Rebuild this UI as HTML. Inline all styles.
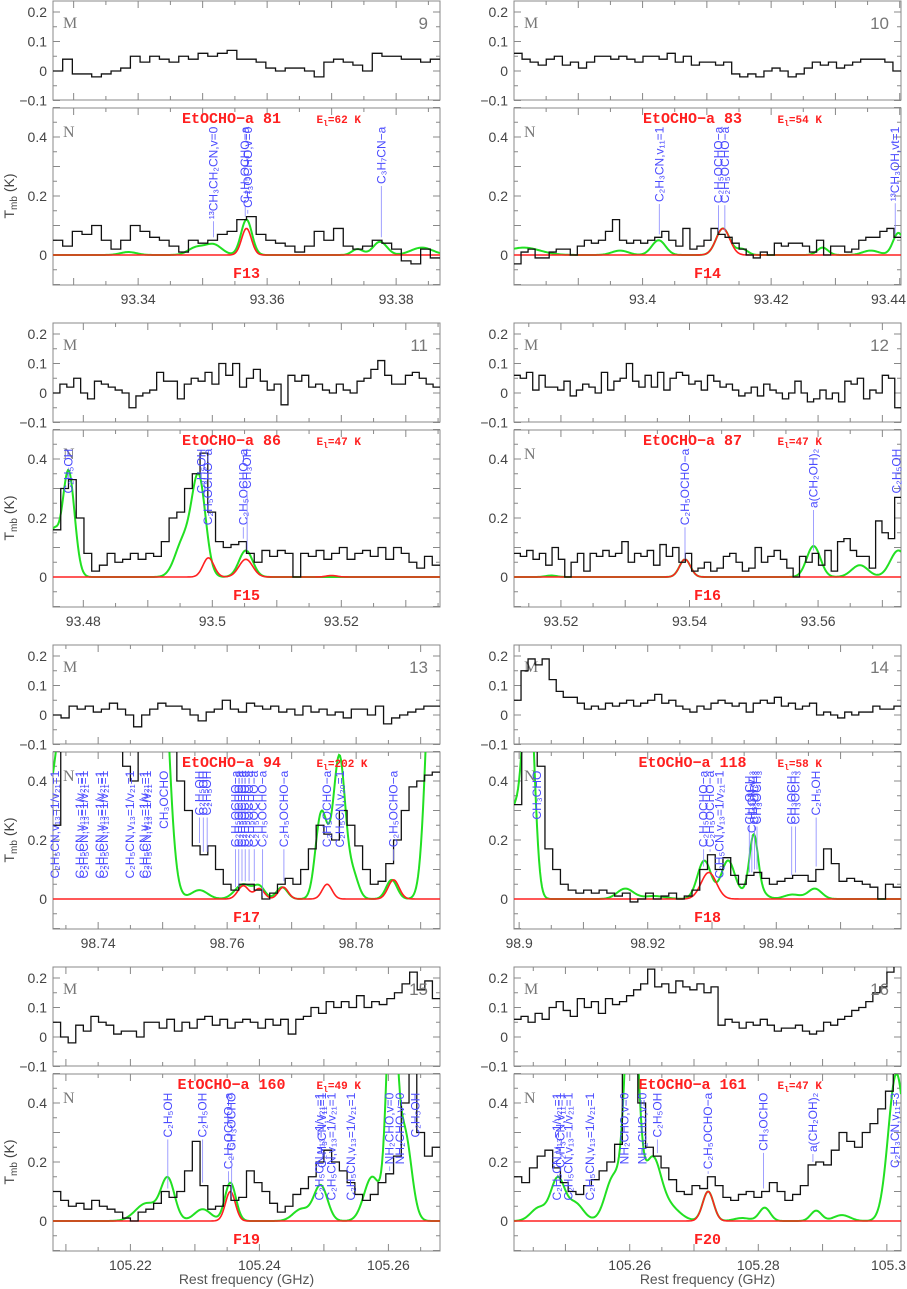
<!DOCTYPE html>
<html><head><meta charset="utf-8"><style>
html,body{margin:0;padding:0;background:#fff}
svg{display:block;font-family:"Liberation Sans",sans-serif}
</style></head><body>
<svg id="chart" width="907" height="1289" viewBox="0 0 907 1289"></svg>
<script>
// ---------- DATA ----------
const p9_range=[93.3268,93.3868], p9_ticks=[93.34,93.36,93.38], p9_tickLabels=["93.34","93.36","93.38"];
const p9_m=[0,0.04,-0.01,-0.01,-0.02,-0.01,0,0.01,0.05,0.03,0.05,0.04,0.03,0.05,0.04,0.06,0.05,0.06,0.07,0.04,0.04,0.03,0.01,0,0.01,0.01,0,-0.02,0.03,0.04,0.03,0.02,0,0.06,0.05,0.05,0.04,0.04,0.03,0.04];
const p9_n=[0.05,0.03,0.08,0.07,0.1,0.05,0.02,0.05,0.1,0.08,0.06,0.05,0.03,0.01,0.05,0.04,0.05,0.07,0.08,0.12,0.13,0.07,0.05,0.04,0.03,0.01,0.03,0.08,0.05,0.09,0.03,0.02,0.03,0.05,0.04,0.02,-0.02,-0.03,0.02,-0.01];
const p9_green=[[93.3517,0.035,0.003],[93.3568,0.12,0.002],[93.3775,0.045,0.0025],[93.374,0.02,0.002],[93.384,0.025,0.004],[93.3385,0.01,0.003],[93.349,0.025,0.003]];
const p9_red=[[93.3568,0.09,0.0018]];
const p9_labels=[[93.3517,"¹³CH₃CH₂CN,v=0"],[93.3566,"C₂H₅OCHO−a"],[93.3570,"CH₃OCHO,v=0"],[93.3777,"C₃H₇CN−a"]];

const p10_range=[93.38,93.4402], p10_ticks=[93.4,93.42,93.44], p10_tickLabels=["93.4","93.42","93.44"];
const p10_m=[0.06,0.04,0.03,0.02,0.04,0.05,0.02,0.03,0.01,0.03,0.05,0.05,0.04,0.05,0.04,0.03,0.05,0.05,0.04,0.06,0.03,0.05,0.02,0.03,0.03,0.02,0.03,-0.01,-0.02,-0.01,-0.02,0,0.01,0,-0.02,-0.01,0.01,0.03,0.02,0.03,0.01,0.02,0.03,0.04,0.04,0.04,0.03,0.0];
const p10_n=[-0.03,0.01,0.02,-0.01,-0.01,0.01,0.02,0.02,0,0.03,0.05,0.04,0.05,0.08,0.12,0.05,0.04,0.05,0.04,0.05,0.06,0.08,0.05,0.03,0.09,0.02,0.03,0.05,0.09,0.07,0.06,0.04,0.02,0.0,-0.01,0.01,0.0,0.04,0.03,0.04,0.04,0.03,0.01,0.05,0,0.03,0.03,0.01,0.02,0.05,0.06,0.06,0.08,0.09,0.06];
const p10_green=[[93.3815,0.025,0.006],[93.3965,0.015,0.003],[93.4025,0.05,0.0025],[93.4125,0.09,0.0025],[93.4155,0.02,0.002],[93.428,0.025,0.002],[93.4355,0.015,0.003],[93.4398,0.075,0.002]];
const p10_red=[[93.4125,0.09,0.0025]];
const p10_labels=[[93.4026,"C₂H₃CN,v₁₁=1"],[93.4118,"C₂H₅OCHO−a"],[93.4128,"C₂H₅OCHO−a"],[93.4393,"¹³CH₃OH,vt=1"]];

const p11_range=[93.4753,93.5353], p11_ticks=[93.48,93.5,93.52], p11_tickLabels=["93.48","93.5","93.52"];
const p11_m=[0,0.03,0.02,0.05,0,-0.02,0.04,0.03,0.02,0.01,0.0,-0.05,-0.01,0,0.01,0.07,0.04,0.04,-0.02,0.03,0.05,0.04,0.07,0.03,0.1,0.06,0.1,0.02,0.05,0.08,0.04,0.01,0.03,-0.04,0.06,0.04,0.06,0.02,0.03,0.01,0,0.03,0.01,0,0.04,0.05,0.08,0.11,0.06,0.03,0.03,0.06,0.07,0.05,0.03,0.02];
const p11_n=[0.16,0.3,0.33,0.2,0.08,0.02,0.04,0.08,0.05,0.06,0.08,0.06,0.08,0.07,0.12,0.2,0.22,0.3,0.35,0.42,0.22,0.12,0.1,0.11,0.12,0.08,0.05,0.09,0.07,0.09,0.08,0.0,0.08,0.07,0.09,0.06,0.08,0.1,0.06,0.08,0.09,0.07,0.1,0.06,0.1,0.08,0.05,0.03,0.07,0.04];
const p11_green=[[93.4753,0.15,0.002],[93.4777,0.36,0.0022],[93.4979,0.33,0.0025],[93.4955,0.12,0.003],[93.5052,0.09,0.0025]];
const p11_red=[[93.4994,0.065,0.002],[93.5052,0.06,0.0025],[93.5185,0.005,0.002]];
const p11_labels=[[93.4777,"C₂H₅OH"],[93.4983,"C₂H₅OH"],[93.4993,"C₂H₅OCHO−a"],[93.5048,"C₂H₅OCHO−a"],[93.5054,"CH₃OH"]];

const p12_range=[93.5127,93.5729], p12_ticks=[93.52,93.54,93.56], p12_tickLabels=["93.52","93.54","93.56"];
const p12_m=[0.06,0.05,0.07,0.01,0.06,0.02,0.02,0.01,0.04,-0.01,0.01,0.03,0.02,0.0,0.07,0.01,0.04,0.05,0.1,0.04,0.02,0.06,0.02,0.07,0.01,0.05,0.07,0.06,0.03,0.04,0.01,0.06,0.04,0.02,0.03,0.01,-0.01,0.0,0.02,-0.01,0.03,0.01,0.0,-0.02,0.0,0.04,0.0,-0.03,-0.02,0.01,-0.02,0.0,-0.03,0.04,0.03,0.05,-0.02,0.01,0.0,0.06,0.05,-0.05];
const p12_n=[0.08,0.07,0.09,0.06,0.08,0.04,0.1,0.06,0.0,0.05,0.08,0.02,0.08,0.07,0.09,0.07,0.08,0.12,0.05,0.08,0.07,0.09,0.04,0.11,0.07,0.1,0.05,0.08,0.02,0.03,0.05,0.02,0.03,0.07,0.08,0.05,0.02,0.03,0.1,0.05,0.07,0.09,0.06,0.03,0.0,0.07,0.05,0.08,0.04,0.09,0.02,0.12,0.13,0.09,0.07,0.07,0.03,0.19,0.15,0.13,0.27];
const p12_green=[[93.5393,0.06,0.002],[93.5593,0.105,0.0025],[93.5665,0.04,0.003],[93.5725,0.09,0.003],[93.5185,0.005,0.002]];
const p12_red=[[93.5393,0.06,0.002]];
const p12_labels=[[93.5393,"C₂H₅OCHO−a"],[93.5593,"a(CH₂OH)₂"],[93.5722,"C₂H₅OH"]];

const p13_range=[98.733,98.793], p13_ticks=[98.74,98.76,98.78], p13_tickLabels=["98.74","98.76","98.78"];
const p13_m=[0,-0.01,0.03,0.02,0.03,0.01,0.02,0.04,0.02,0,-0.04,0.0,0.02,0.04,0.03,0.03,0.02,0.0,-0.02,0.01,0.02,0.05,0.02,0.01,0.04,0.03,0.02,0.03,0.01,0.02,0.0,0.03,0.01,0.02,0.0,0.01,-0.01,0.02,0.02,0.0,0.03,-0.03,-0.01,0,0.01,0.02,0.03,0.03];
const p13_n=[0.25,0.6,0.6,0.6,0.6,0.6,0.6,0.6,0.6,0.45,0.4,0.6,0.6,0.6,0.6,0.5,0.4,0.3,0.18,0.15,0.18,0.1,0.05,0.03,0.05,0.05,0.03,0.0,0.02,0.05,0.07,0.05,0.1,0.17,0.25,0.22,0.2,0.3,0.25,0.18,0.1,0.05,0.06,0.12,0.2,0.3,0.38,0.4,0.42,0.43];
const p13_green=[[98.7385,1.2,0.009],[98.7465,0.6,0.004],[98.7495,1.0,0.003],[98.7557,0.03,0.003],[98.7625,0.05,0.003],[98.765,0.04,0.002],[98.7685,0.04,0.002],[98.7745,0.25,0.002],[98.7775,0.37,0.002],[98.7765,0.15,0.003],[98.7795,0.08,0.002],[98.7855,0.065,0.002],[98.792,1.0,0.0025]];
const p13_red=[[98.7625,0.045,0.002],[98.765,0.035,0.0018],[98.7687,0.04,0.0018],[98.7755,0.05,0.0018],[98.7858,0.065,0.002]];
const p13_labels=[[98.7333,"C₂H₅CN,v₁₃=1/v₂₁=1",1],[98.7372,"C₂H₅CN,v₁₃=1/v₂₁=1",1],[98.7378,"C₂H₅CN,v₁₃=1/v₂₁=1",1],[98.7403,"C₂H₅CN,v₁₃=1/v₂₁=1",1],[98.7409,"C₂H₅CN,v₁₃=1/v₂₁=1",1],[98.7449,"C₂H₅CN,v₁₃=1/v₂₁=1",1],[98.7471,"C₂H₅CN,v₁₃=1/v₂₁=1",1],[98.7476,"C₂H₅CN,v₁₃=1/v₂₁=1",1],[98.7502,"CH₃OCHO",1],
 [98.7557,"C₂H₅OH"],[98.7563,"C₂H₅OH"],[98.7569,"C₂H₅OH"],[98.7613,"C₂H₅OCHO−a"],[98.7618,"C₂H₅OCHO−a"],[98.7623,"C₂H₅OCHO−a"],[98.7628,"C₂H₅OCHO−a"],[98.7634,"C₂H₅OCHO−a"],[98.7642,"C₂H₅OCHO−a"],[98.7655,"C₂H₅OCHO−a"],[98.7688,"C₂H₅OCHO−a"],[98.7755,"C₂H₅OCHO−a"],[98.7775,"C₂H₅CN,v₂₀=1"],[98.7858,"C₂H₅OCHO−a"]];

const p14_range=[98.8992,98.9594], p14_ticks=[98.9,98.92,98.94], p14_tickLabels=["98.9","98.92","98.94"];
const p14_m=[0.05,0.15,0.19,0.17,0.19,0.12,0.08,0.06,0.06,0.04,0.02,0.03,0.02,0.04,0.03,0.04,0.05,0.03,0.04,0.05,0.07,0.04,0.05,0.03,0.02,0.01,0.03,0.02,0.04,0.05,0.04,0.03,0.04,0.01,0.04,0.05,0.04,0.06,0.03,0.04,0.02,0.03,0.04,0.0,0.01,0.0,-0.01,0.01,0.0,0.01,0.01,0.03,0.02,0.02,0.03];
const p14_n=[0.32,0.6,0.6,0.45,0.17,0.1,0.05,0.03,0.02,0.03,0.02,0.03,0.02,0.01,0.02,-0.01,0.0,0.02,0.0,0.01,0.02,0.0,0.01,0.03,0.1,0.15,0.1,0.14,0.08,0.05,0.08,0.09,0.07,0.05,0.06,0.07,0.08,0.08,0.06,0.1,0.17,0.12,0.06,0.07,0.06,0.05,0.04,0.0,0.05,0.04];
const p14_green=[[98.9015,0.75,0.002],[98.8992,0.3,0.003],[98.9165,0.035,0.003],[98.921,0.01,0.004],[98.9288,0.13,0.0025],[98.9325,0.13,0.0025],[98.9365,0.17,0.0015],[98.9365,0.05,0.003],[98.9425,0.015,0.003],[98.946,0.035,0.0025]];
const p14_red=[[98.9295,0.09,0.0028]];
const p14_labels=[[98.9028,"CH₃CHO"],[98.9287,"C₂H₅OCHO−a"],[98.9297,"C₂H₅OCHO−a"],[98.9312,"C₂H₅CN,v₁₃=1/v₂₁=1"],[98.9358,"CH₃OCH₃"],[98.9362,"C₂H₅CN,v₁₃"],[98.9366,"CH₃OCH₃"],[98.9370,"CH₃OCH₃"],[98.9424,"CH₃OCH₃"],[98.9430,"CH₃OCH₃"],[98.9462,"C₂H₅OH"]];

const p15_range=[105.208,105.268], p15_ticks=[105.22,105.24,105.26], p15_tickLabels=["105.22","105.24","105.26"];
const p15_m=[0.05,0.0,-0.02,0.04,0.02,0.07,0.05,0.04,0.01,0.02,0.02,0.0,0.05,0.05,0.03,0.06,0.02,0.05,0.03,0.06,0.07,0.04,0.06,0.03,0.05,0.06,0.05,0.03,0.06,0.04,0.06,0.01,0.06,0.07,0.1,0.08,0.12,0.1,0.12,0.1,0.14,0.1,0.12,0.11,0.13,0.15,0.18,0.22,0.16,0.19,0.13];
const p15_n=[0.1,0.07,0.05,0.06,0.04,0.07,0.05,0.04,0.03,0.01,0.0,0.03,0.04,0.06,0.1,0.08,0.1,0.17,0.27,0.12,0.04,0.05,0.12,0.07,0.08,0.17,0.13,0.1,0.06,0.03,0.05,0.09,0.11,0.15,0.2,0.24,0.2,0.17,0.13,0.09,0.07,0.09,0.13,0.16,0.22,0.4,0.6,0.3,0.22,0.25];
const p15_green=[[105.2225,0.06,0.004],[105.2258,0.14,0.0025],[105.2312,0.04,0.003],[105.2355,0.13,0.002],[105.2465,0.04,0.003],[105.2495,0.12,0.0025],[105.2575,0.15,0.003],[105.2605,0.8,0.0018],[105.2625,0.3,0.0025]];
const p15_red=[[105.2355,0.1,0.0018]];
const p15_labels=[[105.2258,"C₂H₅OH"],[105.2312,"C₂H₅OH"],[105.2352,"C₂H₅OCHO−a"],[105.2357,"CH₃OCHO"],[105.2493,"C₂H₅CN,v₁₃=1/v₂₁=1"],[105.2497,"C₂H₃CN,v₁₁=1"],[105.2512,"C₂H₅CN,v₁₃=1/v₂₁=1"],[105.2542,"C₂H₅CN,v₁₃=1/v₂₁=1"],[105.2602,"NH₂CHO,v=0"],[105.2618,"NH₂CHO,v=0"],[105.2642,"C₂H₅OH"]];

const p16_range=[105.242,105.3022], p16_ticks=[105.26,105.28,105.3], p16_tickLabels=["105.26","105.28","105.3"];
const p16_m=[0.06,0.07,0.05,0.08,0.06,0.1,0.12,0.09,0.07,0.13,0.1,0.12,0.08,0.13,0.11,0.12,0.14,0.16,0.18,0.23,0.17,0.18,0.15,0.19,0.17,0.16,0.18,0.15,0.17,0.04,0.06,0.05,0.03,0.05,0.04,0.06,0.04,0.02,0.03,0.03,0.04,0.02,0.01,0.02,0.05,0.04,0.06,0.07,0.09,0.1,0.12,0.15,0.17,0.22,0.24];
const p16_n=[0.15,0.13,0.18,0.22,0.24,0.18,0.13,0.1,0.09,0.12,0.14,0.17,0.2,0.26,0.6,0.6,0.4,0.25,0.22,0.18,0.14,0.1,0.09,0.12,0.11,0.15,0.12,0.08,0.07,0.09,0.1,0.08,0.1,0.13,0.1,0.07,0.09,0.12,0.19,0.2,0.19,0.24,0.3,0.27,0.25,0.3,0.33,0.38,0.44,0.5];
const p16_green=[[105.2459,0.045,0.003],[105.2488,0.14,0.0025],[105.2515,0.06,0.003],[105.2575,0.15,0.003],[105.2603,0.9,0.0022],[105.2635,0.2,0.003],[105.266,0.05,0.004],[105.2722,0.1,0.002],[105.2775,0.01,0.003],[105.281,0.045,0.002],[105.289,0.035,0.002],[105.293,0.02,0.003],[105.3015,0.5,0.003]];
const p16_red=[[105.2722,0.1,0.002]];
const p16_labels=[[105.2487,"C₂H₅CN,v₁₃=1/v₂₁=1"],[105.2492,"C₂H₃CN,v₁₁=1"],[105.2505,"C₂H₅CN,v₁₃=1/v₂₁=1"],[105.2538,"C₂H₅CN,v₁₃=1/v₂₁=1"],[105.2592,"NH₂CHO,v=0"],[105.2620,"NH₂CHO,v=0"],[105.2643,"C₂H₅OH"],[105.2722,"C₂H₅OCHO−a"],[105.2808,"CH₃OCHO"],[105.2885,"a(CH₂OH)₂"],[105.3013,"C₂H₃CN,v₁₁=3"]];

const panelNums=["9","10","11","12","13","14","15","16"];
const titles=["EtOCHO−a 81","EtOCHO−a 83","EtOCHO−a 86","EtOCHO−a 87","EtOCHO−a 94","EtOCHO−a 118","EtOCHO−a 160","EtOCHO−a 161"];
const energies=["62","54","47","47","202","58","49","47"];
const fLabels=["F13","F14","F15","F16","F17","F18","F19","F20"];

// ---------- RENDER ----------
const NS="http://www.w3.org/2000/svg";
const svg=document.getElementById('chart');
function mk(tag,attrs,parent){const e=document.createElementNS(NS,tag);for(const k in attrs)e.setAttribute(k,attrs[k]);(parent||svg).appendChild(e);return e;}
const panels=[
 [p9_range,p9_ticks,p9_tickLabels,p9_m,p9_n,p9_green,p9_red,p9_labels],
 [p10_range,p10_ticks,p10_tickLabels,p10_m,p10_n,p10_green,p10_red,p10_labels],
 [p11_range,p11_ticks,p11_tickLabels,p11_m,p11_n,p11_green,p11_red,p11_labels],
 [p12_range,p12_ticks,p12_tickLabels,p12_m,p12_n,p12_green,p12_red,p12_labels],
 [p13_range,p13_ticks,p13_tickLabels,p13_m,p13_n,p13_green,p13_red,p13_labels],
 [p14_range,p14_ticks,p14_tickLabels,p14_m,p14_n,p14_green,p14_red,p14_labels],
 [p15_range,p15_ticks,p15_tickLabels,p15_m,p15_n,p15_green,p15_red,p15_labels],
 [p16_range,p16_ticks,p16_tickLabels,p16_m,p16_n,p16_green,p16_red,p16_labels]];
const cols=[[53,440],[514,901]];
const defs=mk('defs',{});
function gsum(list,f){let s=0;for(const g of list){const d=(f-g[0])/g[2];s+=g[1]*Math.exp(-4*Math.LN2*d*d);}return s;}
function stepVal(arr,rng,f){const i=Math.floor((f-rng[0])/(rng[1]-rng[0])*arr.length);return arr[Math.max(0,Math.min(arr.length-1,i))];}

panels.forEach((P,idx)=>{
  const [rng,ticks,tickLabels,mArr,nArr,green,red,labels]=P;
  const c=idx%2, r=Math.floor(idx/2), off=r*322;
  const x0=cols[c][0], x1=cols[c][1];
  const X=f=>x0+(f-rng[0])/(rng[1]-rng[0])*(x1-x0);
  const g=mk('g',{});
  
  
  const subs=[{name:'m',top:1,bot:100,zero:71,arr:mArr,yt:[-0.1,0,0.1,0.2],ytl:["−0.1","0","0.1","0.2"]},
              {name:'n',top:108,bot:285,zero:255,arr:nArr,yt:[0,0.2,0.4],ytl:["0","0.2","0.4"]}];
  subs.forEach(s=>{
    const Y=v=>off+s.zero-v*295;
    const top=off+s.top, bot=off+s.bot;
    const cid='clip'+idx+s.name;
    const cp=mk('clipPath',{id:cid},defs);mk('rect',{x:x0,y:top,width:x1-x0,height:bot-top},cp);
    const sg=mk('g',{},g);
    
    
    const fr=mk('rect',{x:x0,y:top,width:x1-x0,height:bot-top,fill:'none',stroke:'#888','stroke-width':1},sg);
    
    let tp='';
    for(let f=Math.ceil(rng[0]/0.005)*0.005;f<=rng[1];f+=0.005){const x=X(f);const major=Math.abs(Math.round(f/0.01)*0.01-f)<1e-6;const L=major?7:4;tp+=`M${x},${bot}v${-L}M${x},${top}v${L}`;}
    const ymax=s.name=='m'?0.24:0.5;
    for(let v=-0.1;v<=ymax+1e-9;v+=0.05){const y=Y(v);const major=Math.abs(Math.round(v*10)-v*10)<1e-6;const L=major?7:4;tp+=`M${x0},${y}h${L}M${x1},${y}h${-L}`;}
    const tk=mk('path',{d:tp,stroke:'#888','stroke-width':1,fill:'none'},sg);
    
    s.yt.forEach((v,i)=>{const t=mk('text',{x:x0-6,y:Y(v)+5,'text-anchor':'end','font-size':14,fill:'#444'},sg);t.textContent=s.ytl[i];
      });
    const ml=mk('text',{x:x0+10,y:top+(s.name=='m'?27:29),'font-family':'Liberation Serif,serif','font-size':16,fill:'#777'},sg);ml.textContent=s.name=='m'?'M':'N';
    
    const cg=mk('g',{'clip-path':`url(#${cid})`},sg);
    if(s.name=='n'){
      labels.forEach(L=>{
        const x=X(L[0]);
        const t=mk('text',{transform:`translate(${x+4},${Y(0.435)}) rotate(-90)`,'text-anchor':'end','font-size':12,fill:'#4a4aff'},sg);
        t.textContent=L[1];
        
        
        if(!L[2]){
          const len=t.getComputedTextLength();
          const yTextBot=Y(0.435)+len+2;
          const yS=Y(stepVal(nArr,rng,L[0])+0.01);
          if(yS>yTextBot){const ln=mk('line',{x1:x,x2:x,y1:yS,y2:yTextBot,stroke:'#8888ff','stroke-width':0.8},sg);
            }
        }
      });
      let gd='',rd='';
      for(let x=x0;x<=x1;x+=1){const f=rng[0]+(x-x0)/(x1-x0)*(rng[1]-rng[0]);gd+=(x==x0?'M':'L')+x+','+Y(gsum(green,f)).toFixed(2);rd+=(x==x0?'M':'L')+x+','+Y(gsum(red,f)).toFixed(2);}
      const gp=mk('path',{d:gd,fill:'none',stroke:'#22e022','stroke-width':2},cg);
      
      const rp=mk('path',{d:rd,fill:'none',stroke:'#ff2020','stroke-width':1.6},cg);
      
    }
    const n=s.arr.length;let d='';
    s.arr.forEach((v,i)=>{const xa=X(rng[0]+(rng[1]-rng[0])*i/n), xb=X(rng[0]+(rng[1]-rng[0])*(i+1)/n);const y=Y(v).toFixed(2);d+=(i==0?`M${xa},${y}`:`V${y}`)+`H${xb}`;});
    const op=mk('path',{d:d,fill:'none',stroke:'#111','stroke-width':1.3},cg);
    
    if(s.name=='m'){const pn=mk('text',{x:x1-12,y:top+28,'text-anchor':'end','font-size':17,fill:'#777'},sg);pn.textContent=panelNums[idx];
      }
  });
  const cx=(x0+x1)/2;
  const tt=mk('text',{x:cx-15,y:off+123,'text-anchor':'middle','font-family':'Liberation Mono,monospace','font-size':15,'font-weight':'bold',fill:'#ff2020'},g);tt.textContent=titles[idx];
  
  const et=mk('text',{x:cx+70,y:off+123,'font-family':'Liberation Mono,monospace','font-size':11,'font-weight':'bold',fill:'#ff2020'},g);
  et.innerHTML='E<tspan font-size="8" dy="3">l</tspan><tspan dy="-3">='+energies[idx]+' K</tspan>';
  
  const fl=mk('text',{x:cx,y:off+278,'text-anchor':'middle','font-family':'Liberation Mono,monospace','font-size':15,'font-weight':'bold',fill:'#ff2020'},g);fl.textContent=fLabels[idx];
  
  ticks.forEach((f,i)=>{const xt=X(f);const nearEdge=xt>885;
    const t=mk('text',{x:nearEdge?906:xt,y:off+304,'text-anchor':nearEdge?'end':'middle','font-size':14,fill:'#444'},g);t.textContent=tickLabels[i];
    });
  if(c==0){const yl=mk('text',{transform:`translate(14,${off+196}) rotate(-90)`,'text-anchor':'middle','font-size':14,fill:'#444'},g);
    yl.innerHTML='T<tspan font-size="10" dy="3">mb</tspan><tspan dy="-3"> (K)</tspan>';
    }
  if(r==3){const xl=mk('text',{x:cx,y:1284,'text-anchor':'middle','font-size':14,fill:'#555'},g);xl.textContent='Rest frequency (GHz)';
    }
});
</script>
</body></html>
